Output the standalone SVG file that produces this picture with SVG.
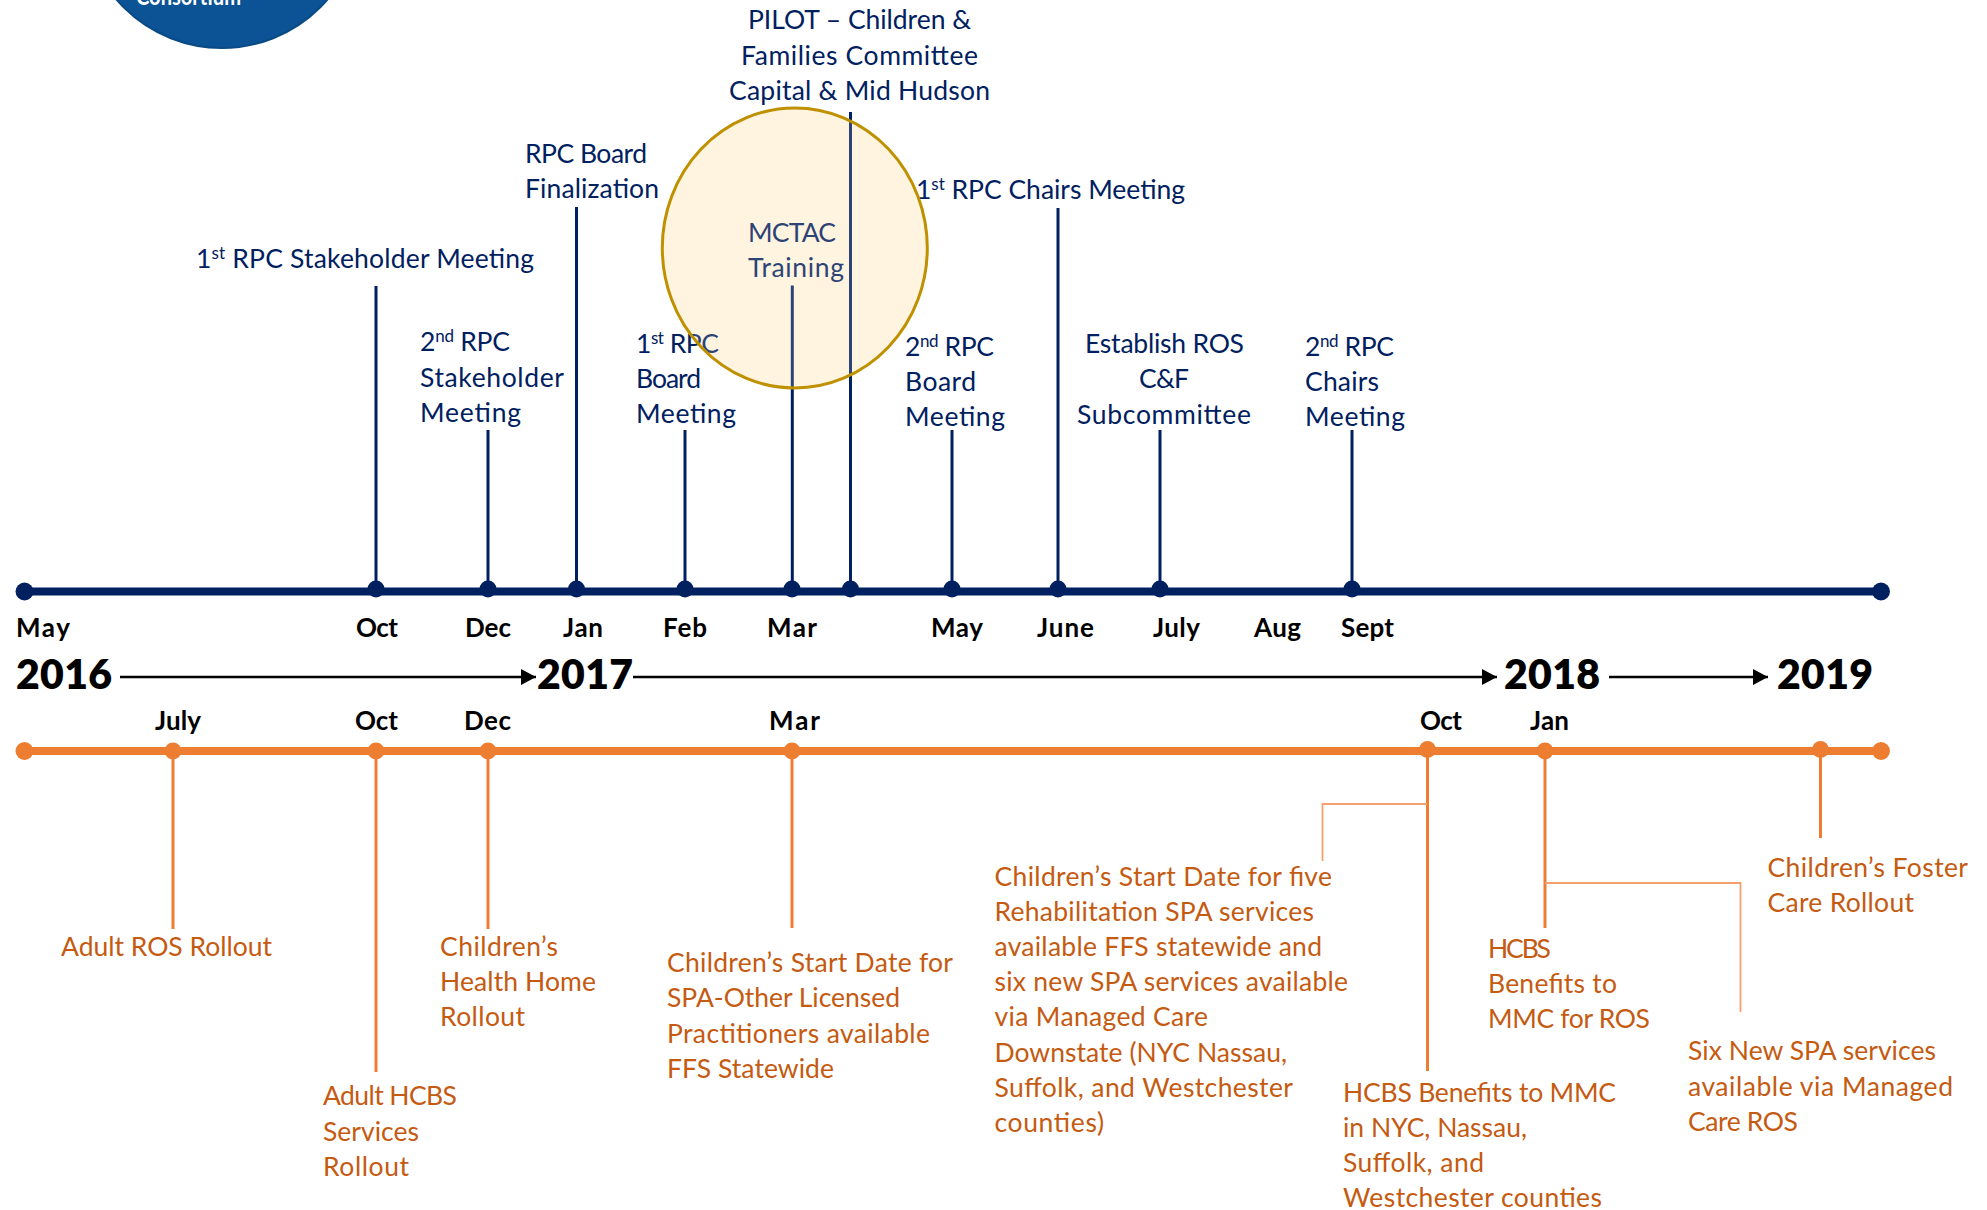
<svg xmlns="http://www.w3.org/2000/svg" width="1987" height="1210" viewBox="0 0 1987 1210">
<style>
text{font-family:"Lato","Noto Sans","Liberation Sans",sans-serif;font-size:26.500px}
.n{fill:#002060}.o{fill:#c55a11}
.m{font-weight:700;fill:#000;font-size:26px}
.y{font-weight:800;fill:#000;font-size:41px}
.sup{font-size:17px}
.ns{stroke:#002060;stroke-width:3;fill:none}
.os{stroke:#ed7d31;stroke-width:3;fill:none}
.ot{stroke:#f4a06e;stroke-width:1.800;fill:none}
.a{stroke:#000;stroke-width:2.500;fill:none;marker-end:url(#ah)}
.nd{fill:#002060}.od{fill:#ed7d31}
</style>
<defs><marker id="ah" markerUnits="userSpaceOnUse" markerWidth="16" markerHeight="16" refX="15" refY="8" orient="auto"><path d="M0 0L15 8L0 16Z" fill="#000"/></marker></defs>
<rect width="1987" height="1210" fill="#fff"/>
<g id="logo"><ellipse cx="222" cy="-91" rx="139" ry="139" fill="#0b5394" stroke="#0a4a84" stroke-width="2"/><text x="136" y="5" fill="#fff" font-weight="700" style="font-size:24px" textLength="105" lengthAdjust="spacingAndGlyphs">Consortium</text></g>
<g id="mctac-circle"><ellipse cx="794.800" cy="248" rx="132.500" ry="140" fill="#fff4df"/></g>
<g id="connectors">
<path class="ns" d="M376 286V590M488 430V590M576.500 207V590M685 430V590M792.300 285.500V590M850.500 112V590M952 430V590M1058 208V590M1160 430V590M1352 430V590"/>
<path class="os" d="M173 751V929M376 751V1072M488 751V929M792 751V928M1427.500 751V1071M1545 751V928M1820.500 751V838"/>
<path class="ot" d="M1427 804H1322.500V861M1545 883H1740.500V1012"/>
<path class="a" d="M120 677H536"/><path class="a" d="M633 677H1497"/><path class="a" d="M1609 677H1768"/>
</g>
<g id="timeline-top"><rect x="24" y="587.500" width="1857" height="8" class="nd"/>
<ellipse cx="24.500" cy="591.500" rx="9" ry="9" class="nd"/><ellipse cx="1881" cy="591.500" rx="9" ry="9" class="nd"/>
<ellipse cx="376" cy="589" rx="8.500" ry="8.500" class="nd"/><ellipse cx="488" cy="589" rx="8.500" ry="8.500" class="nd"/><ellipse cx="576.500" cy="589" rx="8.500" ry="8.500" class="nd"/><ellipse cx="685" cy="589" rx="8.500" ry="8.500" class="nd"/><ellipse cx="792" cy="589" rx="8.500" ry="8.500" class="nd"/><ellipse cx="850.500" cy="589" rx="8.500" ry="8.500" class="nd"/><ellipse cx="952" cy="589" rx="8.500" ry="8.500" class="nd"/><ellipse cx="1058" cy="589" rx="8.500" ry="8.500" class="nd"/><ellipse cx="1160" cy="589" rx="8.500" ry="8.500" class="nd"/><ellipse cx="1352" cy="589" rx="8.500" ry="8.500" class="nd"/></g>
<g id="timeline-bottom"><rect x="24" y="747" width="1857" height="8" class="od"/>
<ellipse cx="24.500" cy="751" rx="9" ry="9" class="od"/><ellipse cx="1881" cy="751" rx="9" ry="9" class="od"/>
<ellipse cx="173" cy="751" rx="8.500" ry="8.500" class="od"/><ellipse cx="376" cy="751" rx="8.500" ry="8.500" class="od"/><ellipse cx="488" cy="751" rx="8.500" ry="8.500" class="od"/><ellipse cx="792" cy="751" rx="8.500" ry="8.500" class="od"/><ellipse cx="1427.500" cy="749.500" rx="8.500" ry="8.500" class="od"/><ellipse cx="1545" cy="751" rx="8.500" ry="8.500" class="od"/><ellipse cx="1820.500" cy="749.500" rx="8.500" ry="8.500" class="od"/></g>
<g id="years">
<text class="y" x="16" y="689" textLength="96">2016</text><text class="y" x="537" y="689" textLength="96">2017</text><text class="y" x="1504" y="689" textLength="96">2018</text><text class="y" x="1777" y="689" textLength="96">2019</text></g>
<g id="months-top">
<text class="m" x="16" y="637" textLength="54">May</text><text class="m" x="356" y="637" textLength="42">Oct</text><text class="m" x="465" y="637" textLength="46">Dec</text><text class="m" x="563" y="637" textLength="40">Jan</text><text class="m" x="663" y="637" textLength="44">Feb</text><text class="m" x="767" y="637" textLength="50">Mar</text><text class="m" x="931" y="637" textLength="52">May</text><text class="m" x="1037" y="637" textLength="57">June</text><text class="m" x="1153" y="637" textLength="47">July</text><text class="m" x="1254" y="637" textLength="47">Aug</text><text class="m" x="1341" y="637" textLength="53">Sept</text></g>
<g id="months-bottom">
<text class="m" x="155" y="730" textLength="46">July</text><text class="m" x="355" y="730" textLength="43">Oct</text><text class="m" x="464" y="730" textLength="47">Dec</text><text class="m" x="769" y="730" textLength="51">Mar</text><text class="m" x="1420" y="730" textLength="42">Oct</text><text class="m" x="1530" y="730" textLength="39">Jan</text></g>
<g id="n-pilot" class="n"><text x="748" y="29" textLength="223">PILOT – Children &amp;</text><text x="741" y="65" textLength="237">Families Committee</text><text x="729" y="100" textLength="261">Capital &amp; Mid Hudson</text></g>
<g id="n-finalization" class="n"><text x="525" y="163" textLength="122">RPC Board</text><text x="525" y="198" textLength="134">Finalization</text></g>
<g id="n-stakeholder1" class="n"><text x="196" y="268" textLength="338">1<tspan class="sup" dy="-9">st</tspan><tspan dy="9"> RPC Stakeholder Meeting</tspan></text></g>
<g id="n-stakeholder2" class="n"><text x="420" y="351" textLength="90">2<tspan class="sup" dy="-9">nd</tspan><tspan dy="9"> RPC</tspan></text><text x="420" y="387" textLength="144">Stakeholder</text><text x="420" y="422" textLength="101">Meeting</text></g>
<g id="n-board1" class="n"><text x="636" y="352.500" textLength="83">1<tspan class="sup" dy="-9">st</tspan><tspan dy="9"> RPC</tspan></text><text x="636" y="388" textLength="65">Board</text><text x="636" y="423" textLength="100">Meeting</text></g>
<g id="n-mctac" class="n"><text x="748" y="242" textLength="88">MCTAC</text><text x="748" y="277" textLength="96">Training</text></g>
<g id="n-chairs1" class="n"><text x="916" y="199" textLength="269">1<tspan class="sup" dy="-9">st</tspan><tspan dy="9"> RPC Chairs Meeting</tspan></text></g>
<g id="n-board2" class="n"><text x="905" y="356" textLength="89">2<tspan class="sup" dy="-9">nd</tspan><tspan dy="9"> RPC</tspan></text><text x="905" y="391" textLength="71">Board</text><text x="905" y="426" textLength="100">Meeting</text></g>
<g id="n-subcommittee" class="n"><text x="1085" y="353" textLength="159">Establish ROS</text><text x="1139" y="388" textLength="50">C&amp;F</text><text x="1077" y="424" textLength="174">Subcommittee</text></g>
<g id="n-chairs2" class="n"><text x="1305" y="356" textLength="89">2<tspan class="sup" dy="-9">nd</tspan><tspan dy="9"> RPC</tspan></text><text x="1305" y="391" textLength="74">Chairs</text><text x="1305" y="426" textLength="100">Meeting</text></g>
<g id="mctac-overlay"><ellipse cx="794.800" cy="248" rx="132.500" ry="140" fill="#fff4df" fill-opacity="0.170" stroke="#bf9000" stroke-width="3"/></g>
<g id="o-adultros" class="o"><text x="61" y="956" textLength="211">Adult ROS Rollout</text></g>
<g id="o-hh" class="o"><text x="440" y="956" textLength="118">Children’s</text><text x="440" y="991" textLength="156">Health Home</text><text x="440" y="1026" textLength="85">Rollout</text></g>
<g id="o-hcbs" class="o"><text x="323" y="1105" textLength="134">Adult HCBS</text><text x="323" y="1141" textLength="96">Services</text><text x="323" y="1176" textLength="86">Rollout</text></g>
<g id="o-spa" class="o"><text x="667" y="972" textLength="286">Children’s Start Date for</text><text x="667" y="1007" textLength="233">SPA-Other Licensed</text><text x="667" y="1043" textLength="263">Practitioners available</text><text x="667" y="1078" textLength="167">FFS Statewide</text></g>
<g id="o-five" class="o"><text x="994.500" y="886" textLength="337.500">Children’s Start Date for five</text><text x="994.500" y="921" textLength="319.500">Rehabilitation SPA services</text><text x="994.500" y="956" textLength="327.500">available FFS statewide and</text><text x="994.500" y="991" textLength="353.500">six new SPA services available</text><text x="994.500" y="1026" textLength="213.500">via Managed Care</text><text x="994.500" y="1062" textLength="292.500">Downstate (NYC Nassau,</text><text x="994.500" y="1097" textLength="298.500">Suffolk, and Westchester</text><text x="994.500" y="1132" textLength="109.500">counties)</text></g>
<g id="o-mmc" class="o"><text x="1343" y="1102" textLength="273">HCBS Benefits to MMC</text><text x="1343" y="1137" textLength="184">in NYC, Nassau,</text><text x="1343" y="1172" textLength="141">Suffolk, and</text><text x="1343" y="1207" textLength="259">Westchester counties</text></g>
<g id="o-mmcros" class="o"><text x="1488" y="958" textLength="63">HCBS</text><text x="1488" y="993" textLength="129">Benefits to</text><text x="1488" y="1028" textLength="162">MMC for ROS</text></g>
<g id="o-six" class="o"><text x="1688" y="1060" textLength="248">Six New SPA services</text><text x="1688" y="1096" textLength="265">available via Managed</text><text x="1688" y="1131" textLength="110">Care ROS</text></g>
<g id="o-foster" class="o"><text x="1767.500" y="877" textLength="200.500">Children’s Foster</text><text x="1767.500" y="912" textLength="146.500">Care Rollout</text></g>
</svg>
